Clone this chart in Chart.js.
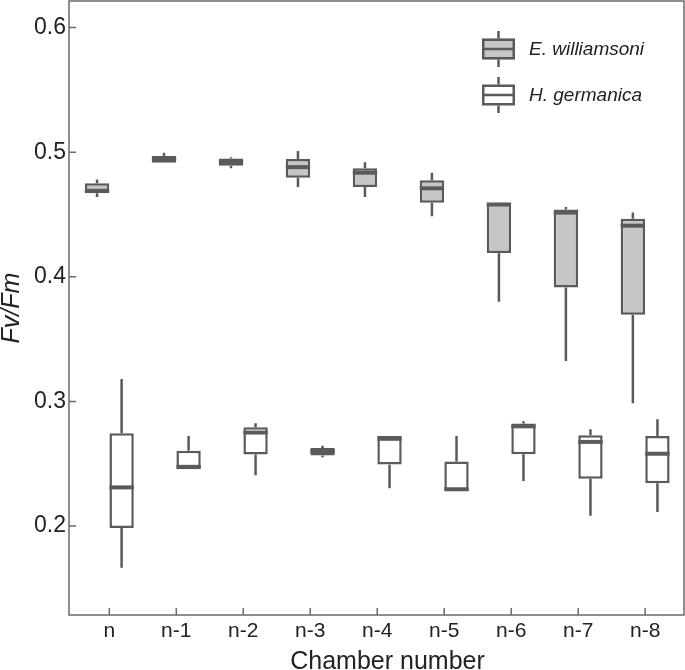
<!DOCTYPE html>
<html>
<head>
<meta charset="utf-8">
<script src="https://cdn.jsdelivr.net/npm/chart.js@4/dist/chart.umd.min.js"></script>
<style>
  body { margin: 0; background: #fff; }
  canvas { display: block; }
</style>
</head>
<body>
<canvas id="fvfmChart" width="685" height="670"></canvas>
<script>
// Chamber labels on the x axis
const categories = ['n', 'n-1', 'n-2', 'n-3', 'n-4', 'n-5', 'n-6', 'n-7', 'n-8'];
const yTicks = [0.2, 0.3, 0.4, 0.5, 0.6];
const seriesNames = ['E. williamsoni', 'H. germanica'];
const xTitle = 'Chamber number';

// E. williamsoni box stats
const ewMin    = [0.464, 0.4915, 0.487, 0.472, 0.464, 0.4485, 0.380, 0.3325, 0.2985];
const ewQ1     = [0.467, 0.4915, 0.489, 0.4795, 0.472, 0.4595, 0.419, 0.3915, 0.3695];
const ewMedian = [0.469, 0.4945, 0.492, 0.488, 0.4835, 0.471, 0.458, 0.4515, 0.441];
const ewQ3     = [0.475, 0.497, 0.495, 0.4945, 0.487, 0.4775, 0.4595, 0.454, 0.4465];
const ewMax    = [0.478, 0.4995, 0.496, 0.501, 0.492, 0.4835, 0.4595, 0.456, 0.4515];

// H. germanica box stats
const hgMin    = [0.1665, 0.2456, 0.2408, 0.2552, 0.2303, 0.2284, 0.2362, 0.2083, 0.2113];
const hgQ1     = [0.1985, 0.2456, 0.2573, 0.2565, 0.2493, 0.2284, 0.2576, 0.238, 0.2343];
const hgMedian = [0.231, 0.2475, 0.275, 0.260, 0.270, 0.2295, 0.280, 0.2675, 0.258];
const hgQ3     = [0.2745, 0.2605, 0.2793, 0.2627, 0.2723, 0.2517, 0.2822, 0.2729, 0.2723];
const hgMax    = [0.318, 0.2723, 0.2825, 0.2645, 0.2723, 0.2723, 0.2841, 0.2777, 0.2857];

const stats = [
    { min: ewMin, q1: ewQ1, med: ewMedian, q3: ewQ3, max: ewMax },
    { min: hgMin, q1: hgQ1, med: hgMedian, q3: hgQ3, max: hgMax }
];

const strokeColor = '#5a5a5a';
const fillColors = ['#c6c6c6', '#ffffff'];
const axisColor = '#6a6a6a';
const textColor = '#222222';
const fontFamily = '"Liberation Sans", Arial, Helvetica, sans-serif';

// whiskers before the boxes, medians after, then frame, ticks, x title and legend
const boxplotPlugin = {
    id: 'boxplotExtras',
    beforeDatasetsDraw(chart) {
        const ctx = chart.ctx;
        const y = chart.scales.y;
        ctx.save();
        ctx.strokeStyle = strokeColor;
        ctx.lineWidth = 2.5;
        stats.forEach((s, d) => {
            chart.getDatasetMeta(d).data.forEach((bar, i) => {
                ctx.beginPath();
                ctx.moveTo(bar.x, y.getPixelForValue(s.max[i]));
                ctx.lineTo(bar.x, y.getPixelForValue(s.q3[i]));
                ctx.moveTo(bar.x, y.getPixelForValue(s.q1[i]));
                ctx.lineTo(bar.x, y.getPixelForValue(s.min[i]));
                ctx.stroke();
            });
        });
        ctx.restore();
    },
    afterDatasetsDraw(chart) {
        const ctx = chart.ctx;
        const y = chart.scales.y;
        ctx.save();
        ctx.strokeStyle = strokeColor;
        ctx.lineWidth = 4;
        stats.forEach((s, d) => {
            chart.getDatasetMeta(d).data.forEach((bar, i) => {
                const py = y.getPixelForValue(s.med[i]);
                ctx.beginPath();
                ctx.moveTo(bar.x - bar.width / 2, py);
                ctx.lineTo(bar.x + bar.width / 2, py);
                ctx.stroke();
            });
        });
        ctx.restore();
    },
    afterDraw(chart) {
        const ctx = chart.ctx;
        const area = chart.chartArea;
        const xs = chart.scales.x;
        const ys = chart.scales.y;
        ctx.save();
        // frame
        ctx.strokeStyle = axisColor;
        ctx.lineWidth = 1.5;
        ctx.strokeRect(area.left, area.top, area.right - area.left, area.bottom - area.top);
        // inward tick marks
        ctx.beginPath();
        yTicks.forEach(v => {
            const py = ys.getPixelForValue(v);
            ctx.moveTo(area.left, py);
            ctx.lineTo(area.left + 7, py);
        });
        categories.forEach((c, i) => {
            const px = xs.getPixelForValue(i);
            ctx.moveTo(px, area.bottom);
            ctx.lineTo(px, area.bottom - 7);
        });
        ctx.stroke();

        // x axis title, sits a bit right of the plot centre in the original
        ctx.fillStyle = textColor;
        ctx.font = '25px ' + fontFamily;
        ctx.textAlign = 'center';
        ctx.textBaseline = 'alphabetic';
        ctx.fillText(xTitle, (area.left + area.right) / 2 + 11, 669);

        // legend
        const lx = area.right - 202;
        const rows = [area.top + 48, area.top + 94];
        rows.forEach((cy, d) => {
            ctx.strokeStyle = strokeColor;
            ctx.lineWidth = 2.5;
            ctx.beginPath();
            ctx.moveTo(lx + 16.5, cy - 18);
            ctx.lineTo(lx + 16.5, cy + 18);
            ctx.stroke();
            ctx.fillStyle = fillColors[d];
            ctx.fillRect(lx, cy - 10.5, 33, 21);
            ctx.strokeRect(lx + 1.25, cy - 9.25, 30.5, 18.5);
            ctx.beginPath();
            ctx.moveTo(lx, cy);
            ctx.lineTo(lx + 33, cy);
            ctx.stroke();
            ctx.fillStyle = textColor;
            ctx.font = 'italic 19px ' + fontFamily;
            ctx.textAlign = 'left';
            ctx.textBaseline = 'middle';
            ctx.fillText(seriesNames[d], lx + 47, cy + 1);
        });
        ctx.restore();
    }
};

function buildDataset(d) {
    return {
        label: seriesNames[d],
        data: categories.map((c, i) => ({ x: i, y: [stats[d].q1[i], stats[d].q3[i]] })),
        backgroundColor: fillColors[d],
        borderColor: strokeColor,
        borderWidth: 2.5,
        borderSkipped: false,
        categoryPercentage: 0.734,
        barPercentage: 0.99
    };
}

const ctx = document.getElementById('fvfmChart').getContext('2d');
const chart = new Chart(ctx, {
    type: 'bar',
    data: {
        datasets: [buildDataset(0), buildDataset(1)]
    },
    plugins: [boxplotPlugin],
    options: {
        responsive: false,
        animation: false,
        devicePixelRatio: 1,
        layout: { padding: { top: 1, right: 1, bottom: 0, left: 0 } },
        plugins: {
            legend: { display: false },
            tooltip: { enabled: false }
        },
        scales: {
            x: {
                type: 'linear',
                offset: false,
                min: -0.602,
                max: 8.58,
                grid: { display: false, drawTicks: false },
                border: { display: false },
                afterBuildTicks: scale => {
                    scale.ticks = categories.map((c, i) => ({ value: i }));
                },
                afterFit: scale => {
                    scale.height = 55;
                    scale.paddingLeft = 0;
                    scale.paddingRight = 0;
                },
                ticks: {
                    callback: value => categories[value],
                    color: textColor,
                    font: { family: fontFamily, size: 21 },
                    padding: 4,
                    maxRotation: 0,
                    autoSkip: false
                },
                title: { display: false }
            },
            y: {
                type: 'linear',
                min: 0.1286,
                max: 0.6213,
                grid: { display: false, drawTicks: false },
                border: { display: false },
                afterBuildTicks: scale => {
                    scale.ticks = yTicks.map(v => ({ value: v }));
                },
                afterFit: scale => {
                    scale.width = 69;
                    scale.paddingTop = 0;
                    scale.paddingBottom = 0;
                },
                ticks: {
                    callback: value => value.toFixed(1),
                    color: textColor,
                    font: { family: fontFamily, size: 23 },
                    padding: 3
                },
                title: {
                    display: true,
                    text: 'Fv/Fm',
                    color: textColor,
                    font: { family: fontFamily, size: 25, style: 'italic', lineHeight: 1 },
                    padding: { top: 0, bottom: 0 }
                }
            }
        }
    }
});
</script>
</body>
</html>
